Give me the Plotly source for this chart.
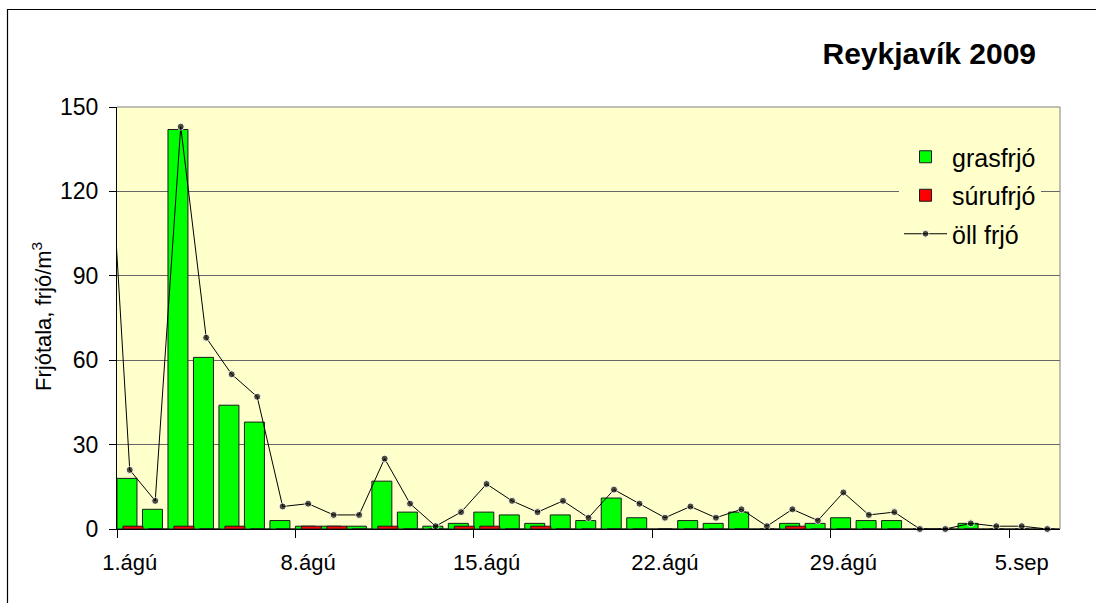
import plotly.graph_objects as go

# ---- data ----
day_labels = [f"{d}.ágú" for d in range(1, 32)] + [f"{d}.sep" for d in range(1, 7)]
grasfrjo = [18, 7, 142, 61, 44, 38, 3, 1, 1, 1, 17, 6, 1, 2, 6, 5, 2, 5, 3, 11,
            4, 0, 3, 2, 6, 0, 2, 2, 4, 3, 3, 0, 0, 2, 0, 0, 0]
surufrjo = [1, 0, 1, 0, 1, 0, 0, 1, 1, 0, 1, 0, 0, 1, 1, 0, 1, 0, 0, 0,
            0, 0, 0, 0, 0, 0, 1, 0, 0, 0, 0, 0, 0, 0, 0, 0, 0]
# öll frjó, starting with 31.júl (just left of the axis)
oll_labels = ["31.júl"] + day_labels
oll_frjo = [173, 21, 10, 143, 68, 55, 47, 8, 9, 5, 5, 25, 9, 1, 6, 16, 10, 6, 10, 4,
            14, 9, 4, 8, 4, 7, 1, 7, 3, 13, 5, 6, 0, 0, 2, 1, 1, 0]
tick_labels = ["1.ágú", "8.ágú", "15.ágú", "22.ágú", "29.ágú", "5.sep"]

x_days = list(range(len(day_labels)))
x_oll = [i - 1 for i in range(len(oll_labels))]
tickvals = [day_labels.index(t) for t in tick_labels]
boundary_ticks = [v - 0.5 for v in tickvals]
x_range = [-0.5, len(day_labels) - 0.5]

FONT = "Liberation Sans, Arial, sans-serif"
BAR_W = 0.784

fig = go.Figure()
fig.add_trace(go.Bar(
    x=x_days, y=grasfrjo, name="grasfrjó", legendgroup="a",
    width=BAR_W, offset=-0.5,
    marker=dict(color="#00FF00", line=dict(color="#1a1a1a", width=1)),
    hovertext=day_labels,
))
fig.add_trace(go.Bar(
    x=x_days, y=surufrjo, name="súrufrjó", legendgroup="b",
    width=BAR_W, offset=-0.5 + 0.235,
    marker=dict(color="#FF0000", line=dict(color="#1a1a1a", width=1)),
    hovertext=day_labels,
))
fig.add_trace(go.Scatter(
    x=x_oll, y=oll_frjo, name="öll frjó", legendgroup="c",
    mode="lines+markers", cliponaxis=False,
    line=dict(color="black", width=1),
    marker=dict(color="black", size=[0] + [7] * len(day_labels)),
    hovertext=oll_labels,
))
# empty helper trace so that the boundary-tick axis is drawn
fig.add_trace(go.Scatter(x=[], y=[], xaxis="x2", showlegend=False, hoverinfo="skip"))

fig.update_layout(
    width=1096, height=603,
    margin=dict(l=117, r=36, t=107, b=74),
    paper_bgcolor="white",
    plot_bgcolor="#FFFFCC",
    barmode="overlay",
    font=dict(family=FONT, color="black"),
    title=dict(text="<b>Reykjavík 2009</b>", xref="container", yref="container",
               x=1036 / 1096, xanchor="right", y=1 - 53 / 603, yanchor="middle",
               font=dict(size=30, family=FONT, color="black")),
    legend=dict(x=(899 - 117) / 943, xanchor="left", y=(529 - 134) / 422, yanchor="top",
                bgcolor="#FFFFCC", borderwidth=0, font=dict(size=25, family=FONT),
                itemwidth=43, tracegroupgap=3, traceorder="grouped"),
    showlegend=True,
    xaxis2=dict(overlaying="x", anchor="y", side="bottom", range=x_range,
                tickmode="array", tickvals=boundary_ticks, ticks="outside",
                ticklen=8, tickcolor="black", tickwidth=1, showticklabels=False,
                showgrid=False, zeroline=False, showline=False),
)
fig.update_xaxes(
    selector=dict(anchor="y", overlaying=None),
)
fig.layout.xaxis.update(
    range=x_range, tickmode="array",
    tickvals=tickvals, ticktext=tick_labels,
    ticks="outside", ticklen=8, tickcolor="rgba(0,0,0,0)",
    tickfont=dict(size=22, family=FONT), showgrid=False, zeroline=False,
    showline=True, linecolor="black", linewidth=1,
    ticklabelstandoff=6,
)
fig.update_yaxes(
    range=[0, 150], tickmode="array", tickvals=[0, 30, 60, 90, 120, 150],
    ticks="outside", ticklen=7, tickcolor="black",
    tickfont=dict(size=23, family=FONT),
    showgrid=True, gridcolor="#666666", gridwidth=1, zeroline=False,
    showline=True, linecolor="black", linewidth=1, ticklabelstandoff=6,
)

fig.add_annotation(
    text="Frjótala, frjó/m<sup>3</sup>", textangle=-90,
    xref="paper", yref="paper", x=(42 - 117) / 943, y=(529 - 317) / 422,
    xanchor="center", yanchor="middle", showarrow=False,
    font=dict(size=22, family=FONT, color="black"),
)
# plot area top/right border and outer chart frame
fig.add_shape(type="line", xref="paper", yref="paper", x0=0, x1=1, y0=1, y1=1,
              line=dict(color="#808080", width=1))
fig.add_shape(type="line", xref="paper", yref="paper", x0=1, x1=1, y0=0, y1=1,
              line=dict(color="#808080", width=1))
fig.add_shape(type="rect", xref="paper", yref="paper",
              x0=(7.5 - 117) / 943, x1=1.2, y0=-0.5, y1=(529 - 9.5) / 422,
              line=dict(color="black", width=1.2), fillcolor="rgba(0,0,0,0)")

fig.write_html("out.html",
               config={"displayModeBar": False},
               post_script=["document.body.style.margin='0px';"
                            "document.body.style.overflow='hidden';"])
